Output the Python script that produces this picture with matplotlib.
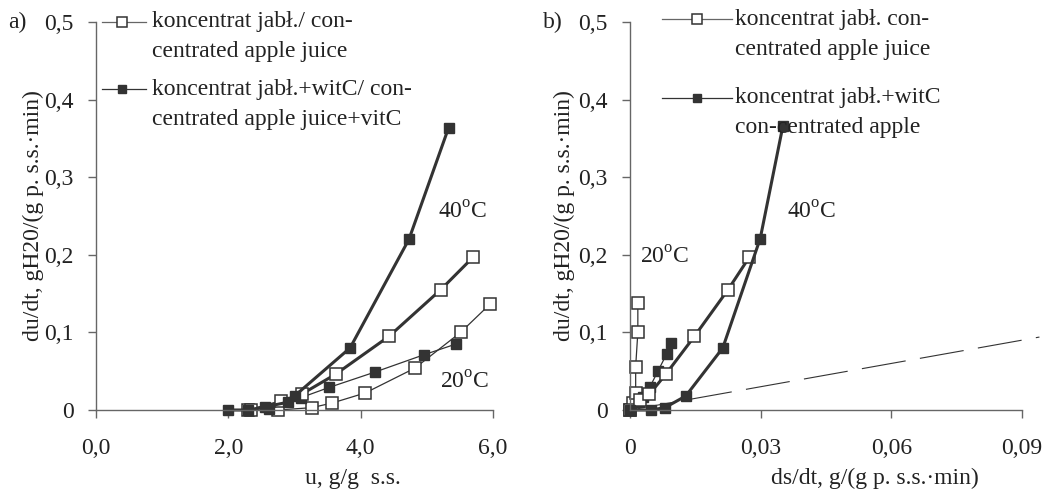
import matplotlib
matplotlib.use("Agg")
import matplotlib.pyplot as plt
from matplotlib.lines import Line2D

plt.rcParams['font.family'] = ['Liberation Serif', 'DejaVu Serif']
plt.rcParams['mathtext.fontset'] = 'custom'
plt.rcParams['mathtext.rm'] = 'Liberation Serif'

# ---- data, panel a (u vs du/dt) ----
u_20_apple = [2.30, 2.75, 3.26, 3.57, 4.07, 4.82, 5.51, 5.95]
r_20_apple = [0.0, 0.0, 0.003, 0.009, 0.022, 0.054, 0.100, 0.136]
u_40_apple = [2.35, 2.80, 3.12, 3.62, 4.43, 5.21, 5.70]
r_40_apple = [0.0, 0.011, 0.021, 0.046, 0.095, 0.155, 0.197]
u_20_vitc = [2.62, 3.10, 3.52, 4.22, 4.95, 5.44]
r_20_vitc = [0.001, 0.016, 0.029, 0.049, 0.071, 0.085]
u_40_vitc = [2.00, 2.30, 2.55, 2.90, 3.00, 3.84, 4.73, 5.33]
r_40_vitc = [0.0, 0.0, 0.004, 0.010, 0.018, 0.080, 0.220, 0.364]

# ---- data, panel b (ds/dt vs du/dt) ----
s_20_apple = [0.0, 0.0007, 0.0013, 0.0013, 0.0018, 0.0018]
q_20_apple = [0.0, 0.009, 0.022, 0.056, 0.100, 0.138]
s_40_apple = [0.0, 0.0023, 0.0044, 0.0082, 0.0148, 0.0225, 0.0274]
q_40_apple = [0.0, 0.013, 0.020, 0.046, 0.095, 0.155, 0.197]
s_20_vitc = [0.0, 0.0020, 0.0030, 0.0046, 0.0064, 0.0084, 0.0094]
q_20_vitc = [0.0, 0.010, 0.017, 0.030, 0.050, 0.072, 0.086]
s_40_vitc = [0.0, 0.0048, 0.0080, 0.0128, 0.0213, 0.0299, 0.0351]
q_40_vitc = [0.0, 0.0, 0.003, 0.018, 0.080, 0.221, 0.366]
ref_x = [0.0, 0.094]
ref_y = [0.0, 0.094]

y_ticks = [0, 0.1, 0.2, 0.3, 0.4, 0.5]
y_labels = ['0', '0,1', '0,2', '0,3', '0,4', '0,5']
xa_ticks = [0, 2, 4, 6]
xa_labels = ['0,0', '2,0', '4,0', '6,0']
xb_ticks = [0, 0.03, 0.06, 0.09]
xb_labels = ['0', '0,03', '0,06', '0,09']

W, H = 1046, 490
dark = '#333333'
gray = '#666666'
fs = 17

fig = plt.figure(figsize=(W / 100, H / 100), dpi=100)

def fx(px):
    return px / W

def fy(py):
    return 1 - py / H

ax_a = fig.add_axes([fx(96), fy(410), fx(493) - fx(96), fy(22) - fy(410)])
ax_b = fig.add_axes([fx(630), fy(410), fx(1022) - fx(630), fy(22) - fy(410)])

open_kw = dict(marker='s', markersize=9, markerfacecolor='white',
               markeredgecolor=dark, markeredgewidth=1.1, color=dark)
fill_kw = dict(marker='s', markersize=7.5, markerfacecolor=dark,
               markeredgecolor=dark, color=dark)

ax_a.plot(u_20_apple, r_20_apple, lw=0.9, **open_kw, clip_on=False)
ax_a.plot(u_20_vitc, r_20_vitc, lw=0.9, **fill_kw, clip_on=False)
ax_a.plot(u_40_apple, r_40_apple, lw=2.2, **open_kw, clip_on=False)
ax_a.plot(u_40_vitc, r_40_vitc, lw=2.2, **fill_kw, clip_on=False)

ax_b.plot(ref_x, ref_y, lw=0.8, color=dark, dashes=(40, 13), clip_on=False)
ax_b.plot(s_20_apple, q_20_apple, lw=0.9, **open_kw, clip_on=False)
ax_b.plot(s_20_vitc, q_20_vitc, lw=0.9, **fill_kw, clip_on=False)
ax_b.plot(s_40_apple, q_40_apple, lw=2.2, **open_kw, clip_on=False)
ax_b.plot(s_40_vitc, q_40_vitc, lw=2.2, **fill_kw, clip_on=False)

for ax, xt, xl, xmax in [(ax_a, xa_ticks, xa_labels, 6), (ax_b, xb_ticks, xb_labels, 0.09)]:
    ax.set_xlim(0, xmax)
    ax.set_ylim(0, 0.5)
    ax.set_xticks(xt)
    ax.set_xticklabels(xl)
    ax.set_yticks(y_ticks)
    ax.set_yticklabels(y_labels)
    for side in ['top', 'right']:
        ax.spines[side].set_visible(False)
    for side in ['left', 'bottom']:
        ax.spines[side].set_color(gray)
        ax.spines[side].set_linewidth(1.0)
    ax.tick_params(axis='both', direction='out', length=6, width=1.0,
                   color=gray, labelsize=fs, labelcolor='#222222')
    ax.tick_params(axis='x', pad=14)
    ax.tick_params(axis='y', pad=10)
    ax.set_ylabel('du/dt, gH20/(g p. s.s.·min)', fontsize=fs, color='#222222')

ax_a.yaxis.set_label_coords(-0.13, 0.5)
ax_b.yaxis.set_label_coords(-0.14, 0.5)
ax_a.set_xlabel('u, g/g  s.s.', fontsize=fs, color='#222222')
ax_a.xaxis.set_label_coords((353 - 96) / (493 - 96), -(478 - 410) / 388)
ax_b.set_xlabel('ds/dt, g/(g p. s.s.·min)', fontsize=fs, color='#222222')
ax_b.xaxis.set_label_coords((875 - 630) / (1022 - 630), -(478 - 410) / 388)
ax_a.xaxis.label.set_va('center')
ax_b.xaxis.label.set_va('center')

# panel letters and temperatures
fig.text(fx(8), fy(22), 'a)', fontsize=fs, va='center', color='#222222')
fig.text(fx(543), fy(22), 'b)', fontsize=fs, va='center', color='#222222')
for px, py, t in [(463, 213, '40'), (465, 383, '20'), (812, 213, '40'), (665, 258, '20')]:
    fig.text(fx(px), fy(py), t + r'$^{\mathrm{o}}$C', fontsize=fs, ha='center',
             va='center', color='#222222')

# manual legends
def legend_entry(x0, x1, xm, py, lines, text_x, kw, lc):
    fig.add_artist(Line2D([fx(x0), fx(x1)], [fy(py), fy(py)], lw=0.9, color=lc,
                          transform=fig.transFigure))
    k = dict(kw)
    k['markersize'] = k['markersize'] * 0.85
    fig.add_artist(Line2D([fx(xm)], [fy(py)], lw=0, transform=fig.transFigure, **k))
    for i, line in enumerate(lines):
        fig.text(fx(text_x), fy(py + 30 * i), line, fontsize=fs, va='center',
                 color='#222222')

legend_entry(102, 146, 122, 22, ['koncentrat jabł./ con-', 'centrated apple juice'],
             152, open_kw, gray)
legend_entry(102, 146, 122, 89, ['koncentrat jabł.+witC/ con-', 'centrated apple juice+vitC'],
             152, fill_kw, dark)
legend_entry(662, 732, 697, 19, ['koncentrat jabł. con-', 'centrated apple juice'],
             735, open_kw, gray)
legend_entry(662, 732, 697, 98, ['koncentrat jabł.+witC', 'con-centrated apple'],
             735, fill_kw, dark)

fig.savefig('out.png', dpi=100)
